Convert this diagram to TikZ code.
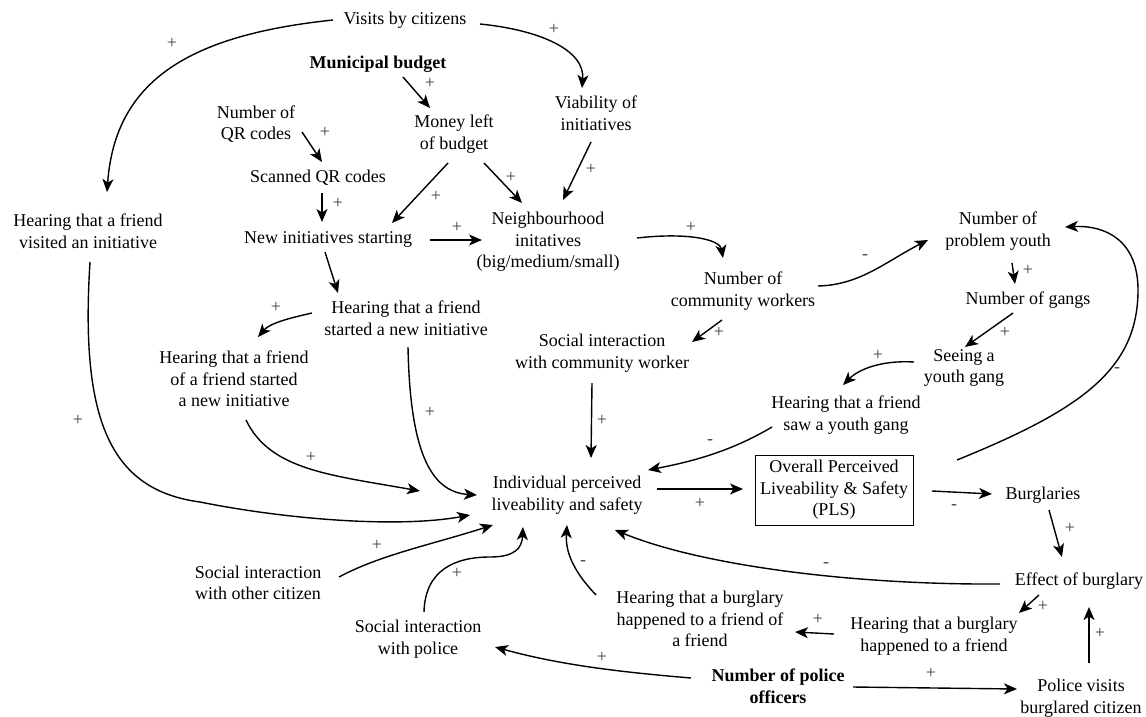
\documentclass[tikz,border=0pt]{standalone}
\usepackage{fontspec}
\setmainfont{Liberation Serif}
\usetikzlibrary{arrows.meta}
\begin{document}
\begin{tikzpicture}[x=1pt,y=-1pt,
  v/.style={align=center, font=\fontsize{18}{21.5}\selectfont, inner sep=2pt},
  vb/.style={v, font=\fontsize{18}{21.5}\selectfont\bfseries},
  arr/.style={-{Stealth[length=13pt,width=11pt,inset=3.5pt]}, line width=1.4pt},
  sg/.style={font=\fontsize{18}{20}\selectfont, text=black!75, inner sep=0pt}]
\useasboundingbox (0,0) rectangle (1146,716);
% variables
\node[v] (vis) at (405,20) {Visits by citizens};
\node[vb] (mb) at (378,64) {Municipal budget};
\node[v] (qr) at (256,124) {Number of\\QR codes};
\node[v] (scan) at (318,178) {Scanned QR codes};
\node[v] (newi) at (328,239) {New initiatives starting};
\node[v] (money) at (454,134) {Money left\\of budget};
\node[v] (via) at (596,113) {Viability of\\initiatives};
\node[v] (neigh) at (548,242) {Neighbourhood\\initatives\\(big/medium/small)};
\node[v] (hvis) at (88,231) {Hearing that a friend\\visited an initiative};
\node[v] (hnew) at (406,318) {Hearing that a friend\\started a new initiative};
\node[v] (hfof) at (234,379) {Hearing that a friend\\of a friend started\\a new initiative};
\node[v] (cw) at (743,291) {Number of\\community workers};
\node[v] (sicw) at (602,353) {Social interaction\\with community worker};
\node[v] (prob) at (998,231) {Number of\\problem youth};
\node[v] (gangs) at (1028,300) {Number of gangs};
\node[v] (seeing) at (964,368) {Seeing a\\youth gang};
\node[v] (hsaw) at (846,415) {Hearing that a friend\\saw a youth gang};
\node[v] (ind) at (567,495) {Individual perceived\\liveability and safety};
\node[v, draw, line width=1pt, minimum width=158pt, minimum height=70pt] (pls) at (834,490) {Overall Perceived\\Liveability \& Safety\\(PLS)};
\node[v] (burg) at (1043,495) {Burglaries};
\node[v] (effect) at (1079,581) {Effect of burglary};
\node[v] (hbf) at (934,636) {Hearing that a burglary\\happened to a friend};
\node[v] (hbfof) at (700,619) {Hearing that a burglary\\happened to a friend of\\a friend};
\node[vb] (police) at (778,686) {Number of police\\officers};
\node[v] (pv) at (1081,698) {Police visits\\burglared citizen};
\node[v] (sipol) at (418,639) {Social interaction\\with police};
\node[v] (sioth) at (258,583) {Social interaction\\with other citizen};
% connectors
\draw[arr] ([shift={(-72,0)}]vis.center) .. controls (190,35) and (115,80) .. ([shift={(19,-39)}]hvis.center);
\draw[arr] ([shift={(75,4)}]vis.center) .. controls (540,30) and (585,50) .. ([shift={(-14,-25)}]via.center);
\draw[arr] ([shift={(25,13)}]mb.center) -- ([shift={(-24,-26)}]money.center);
\draw[arr] ([shift={(46,8)}]qr.center) -- ([shift={(4,-16)}]scan.center);
\draw[arr] ([shift={(4,15)}]scan.center) -- ([shift={(-6,-17)}]newi.center);
\draw[arr] ([shift={(-6,29)}]money.center) -- ([shift={(64,-16)}]newi.center);
\draw[arr] ([shift={(30,29)}]money.center) -- ([shift={(-26,-39)}]neigh.center);
\draw[arr] ([shift={(-5,29)}]via.center) -- ([shift={(15,-42)}]neigh.center);
\draw[arr] ([shift={(102,1)}]newi.center) -- ([shift={(-66,-2)}]neigh.center);
\draw[arr] ([shift={(89,-4)}]neigh.center) .. controls (690,232) and (720,240) .. ([shift={(-20,-33)}]cw.center);
\draw[arr] ([shift={(75,-5)}]cw.center) .. controls (860,285) and (885,262) .. ([shift={(-70,9)}]prob.center);
\draw[arr] ([shift={(14,32)}]prob.center) -- ([shift={(-13,-16)}]gangs.center);
\draw[arr] ([shift={(-15,13)}]gangs.center) -- ([shift={(1,-21)}]seeing.center);
\draw[arr] ([shift={(-50,-6)}]seeing.center) .. controls (880,360) and (858,370) .. ([shift={(-3,-30)}]hsaw.center);
\draw[arr] ([shift={(-74,12)}]hsaw.center) .. controls (730,452) and (690,462) .. ([shift={(81,-25)}]ind.center);
\draw[arr] ([shift={(-21,29)}]cw.center) -- ([shift={(90,-11)}]sicw.center);
\draw[arr] ([shift={(-10,30)}]sicw.center) -- ([shift={(24,-37)}]ind.center);
\draw[arr] ([shift={(-3,13)}]newi.center) -- ([shift={(-68,-25)}]hnew.center);
\draw[arr] ([shift={(-94,-5)}]hnew.center) .. controls (290,318) and (270,323) .. ([shift={(24,-42)}]hfof.center);
\draw[arr] ([shift={(2,29)}]hnew.center) .. controls (410,450) and (430,492) .. ([shift={(-90,0)}]ind.center);
\draw[arr] ([shift={(12,41)}]hfof.center) .. controls (270,470) and (330,475) .. ([shift={(-147,-4)}]ind.center);
\draw[arr] ([shift={(2,31)}]hvis.center) .. controls (80,420) and (110,490) .. (200,502) .. controls (290,520) and (400,528) .. ([shift={(-97,20)}]ind.center);
\draw[arr] ([shift={(81,-6)}]sioth.center) .. controls (380,555) and (430,545) .. ([shift={(-74,30)}]ind.center);
\draw[arr] ([shift={(6,-27)}]sipol.center) .. controls (425,570) and (455,557) .. (490,557) .. controls (515,557) and (522,548) .. ([shift={(-44,32)}]ind.center);
\draw[arr] ([shift={(-104,-24)}]hbfof.center) .. controls (577,575) and (565,555) .. ([shift={(0,30)}]ind.center);
\draw[arr] ([shift={(-79,3)}]effect.center) .. controls (850,585) and (700,565) .. ([shift={(48,35)}]ind.center);
\draw[arr] ([shift={(90,-6)}]ind.center) -- ([shift={(-91,-1)}]pls.center);
\draw[arr] ([shift={(98,1)}]pls.center) -- ([shift={(-51,-1)}]burg.center);
\draw[arr] ([shift={(123,-30)}]pls.center) .. controls (1080,410) and (1138,370) .. (1138,290) .. controls (1138,240) and (1105,225) .. ([shift={(67,-4)}]prob.center);
\draw[arr] ([shift={(6,15)}]burg.center) -- ([shift={(-17,-24)}]effect.center);
\draw[arr] ([shift={(-40,14)}]effect.center) -- ([shift={(85,-23)}]hbf.center);
\draw[arr] ([shift={(-100,-2)}]hbf.center) -- ([shift={(95,13)}]hbfof.center);
\draw[arr] ([shift={(-87,-8)}]police.center) .. controls (620,672) and (560,665) .. ([shift={(77,8)}]sipol.center);
\draw[arr] ([shift={(75,1)}]police.center) -- ([shift={(-64,-9)}]pv.center);
\draw[arr] ([shift={(8,-35)}]pv.center) -- ([shift={(10,26)}]effect.center);
% polarity signs
\node[sg] (s1) at (172,43) {+};
\node[sg] (s2) at (554,29) {+};
\node[sg] (s3) at (430,83) {+};
\node[sg] (s4) at (325,132) {+};
\node[sg] (s5) at (338,203) {+};
\node[sg] (s6) at (436,196) {+};
\node[sg] (s7) at (511,177) {+};
\node[sg] (s8) at (591,169) {+};
\node[sg] (s9) at (457,227) {+};
\node[sg] (s10) at (691,227) {+};
\node[sg] (s11) at (865,257) {-};
\node[sg] (s12) at (1028,270) {+};
\node[sg] (s13) at (1005,332) {+};
\node[sg] (s14) at (878,355) {+};
\node[sg] (s15) at (710,442) {-};
\node[sg] (s16) at (719,332) {+};
\node[sg] (s17) at (602,420) {+};
\node[sg] (s18) at (276,307) {+};
\node[sg] (s19) at (430,412) {+};
\node[sg] (s20) at (311,457) {+};
\node[sg] (s21) at (78,420) {+};
\node[sg] (s22) at (377,545) {+};
\node[sg] (s23) at (457,573) {+};
\node[sg] (s24) at (583,563) {-};
\node[sg] (s25) at (826,565) {-};
\node[sg] (s26) at (700,503) {+};
\node[sg] (s27) at (954,507) {-};
\node[sg] (s28) at (1117,370) {-};
\node[sg] (s29) at (1070,528) {+};
\node[sg] (s30) at (1043,606) {+};
\node[sg] (s31) at (818,619) {+};
\node[sg] (s32) at (602,657) {+};
\node[sg] (s33) at (931,673) {+};
\node[sg] (s34) at (1100,633) {+};
\end{tikzpicture}
\end{document}
